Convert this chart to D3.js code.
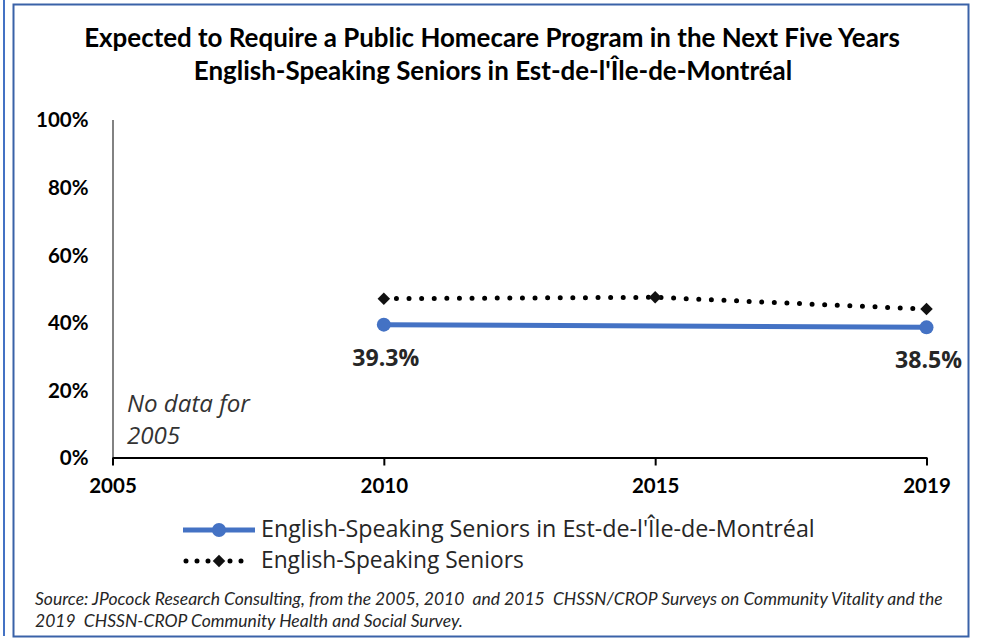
<!DOCTYPE html>
<html><head><meta charset="utf-8">
<script src="https://cdn.jsdelivr.net/npm/d3@7"></script>
<style>body{margin:0;background:#fff}</style></head>
<body>
<svg id="c" width="981" height="641"></svg>
<script>
const years = ["2005", "2010", "2015", "2019"];
const estValues = [null, 39.3, null, 38.5];
const allValues = [null, 47.0, 47.4, 43.9];
const yTicks = [0, 20, 40, 60, 80, 100];
const seriesNames = ["English-Speaking Seniors in Est-de-l'Île-de-Montréal", "English-Speaking Seniors"];
const titleLines = ["Expected to Require a Public Homecare Program in the Next Five Years", "English-Speaking Seniors in Est-de-l'Île-de-Montréal"];
const noteLines = ["No data for", "2005"];
const sourceLines = ["Source: JPocock Research Consulting, from the 2005, 2010  and 2015  CHSSN/CROP Surveys on Community Vitality and the", "2019  CHSSN-CROP Community Health and Social Survey."];

const svg = d3.select("#c");
function fit(sel, w) {
  sel.each(function () {
    const cur = this.getComputedTextLength();
    const fs = parseFloat(this.getAttribute("font-size"));
    if (cur > 0) this.setAttribute("font-size", fs * w / cur);
  });
}

// borders
svg.append("line").attr("x1", 4).attr("x2", 4).attr("y1", 0).attr("y2", 636)
  .attr("stroke", "#4472C4").attr("stroke-width", 2);
svg.append("rect").attr("x", 13.5).attr("y", 4.5).attr("width", 955).attr("height", 632)
  .attr("fill", "none").attr("stroke", "#3A62A8").attr("stroke-width", 2);

// title
const tFonts = "Lato, 'Liberation Sans', sans-serif";
const tY = [47, 80];
const t1 = svg.append("text").attr("x", 492).attr("y", tY[0]).attr("text-anchor", "middle")
  .attr("font-family", tFonts).attr("font-weight", "bold").attr("font-size", 20)
  .attr("fill", "#000").text(titleLines[0]).call(fit, 816);
svg.append("text").attr("x", 493).attr("y", tY[1]).attr("text-anchor", "middle")
  .attr("font-family", tFonts).attr("font-weight", "bold").attr("font-size", t1.attr("font-size"))
  .attr("fill", "#000").text(titleLines[1]);

const x = d3.scalePoint().domain(years).range([112.5, 926.5]);
const y = d3.scaleLinear().domain([0, 100]).range([457.5, 119.5]);

// y axis
const yAxis = svg.append("g").attr("transform", "translate(112.5,0)")
  .call(d3.axisLeft(y).tickValues(yTicks).tickSize(0).tickPadding(24).tickFormat(d => d + "%"));
yAxis.select(".domain").attr("stroke", "#595959").attr("stroke-width", 1.5);
yAxis.selectAll("text").attr("font-family", tFonts).attr("font-weight", "bold")
  .attr("font-size", 20.5).attr("fill", "#000").attr("dy", "0.36em");

// x axis
const xAxis = svg.append("g").attr("transform", "translate(0,457.5)")
  .call(d3.axisBottom(x).tickSize(8).tickPadding(13).tickSizeOuter(0));
xAxis.select(".domain").attr("stroke", "#000").attr("stroke-width", 2);
xAxis.selectAll(".tick line").attr("stroke", "#000").attr("stroke-width", 2);
xAxis.selectAll("text").attr("font-family", tFonts).attr("font-weight", "bold")
  .attr("font-size", 20.5).attr("fill", "#000");

// series: all English-speaking seniors (dotted)
const allPts = years.map((yr, i) => ({ yr, v: allValues[i] })).filter(d => d.v != null);
const estPts = years.map((yr, i) => ({ yr, v: estValues[i] })).filter(d => d.v != null);
const line = d3.line().x(d => x(d.yr)).y(d => y(d.v));

svg.append("path").datum(allPts).attr("d", line).attr("fill", "none")
  .attr("stroke", "#000").attr("stroke-width", 5).attr("stroke-linecap", "round")
  .attr("stroke-dasharray", "0,12.6");
const diamond = d3.symbol().type(d3.symbolSquare).size(78);
svg.selectAll(".dm").data(allPts).join("path").attr("class", "dm")
  .attr("transform", d => `translate(${x(d.yr)},${y(d.v)}) rotate(45)`).attr("d", diamond).attr("fill", "#111");

// series: Est-de-l'Île (blue)
svg.append("path").datum(estPts).attr("d", line).attr("fill", "none")
  .attr("stroke", "#4472C4").attr("stroke-width", 5);
svg.selectAll(".cm").data(estPts).join("circle").attr("class", "cm")
  .attr("cx", d => x(d.yr)).attr("cy", d => y(d.v)).attr("r", 7).attr("fill", "#4472C4");

// data labels
const lFonts = "'Open Sans', 'Noto Sans', sans-serif";
svg.selectAll(".dl").data(estPts).join("text").attr("class", "dl")
  .attr("x", d => x(d.yr) + 2).attr("y", d => y(d.v) + 41).attr("text-anchor", "middle")
  .attr("font-family", lFonts).attr("font-weight", "bold").attr("font-size", 19)
  .attr("fill", "#262626").text(d => d.v.toFixed(1) + "%").call(fit, 67);

// note
const n1 = svg.append("text").attr("x", 127).attr("y", 412)
  .attr("font-family", lFonts).attr("font-style", "italic").attr("font-size", 19)
  .attr("fill", "#333").text(noteLines[0]).call(fit, 123);
svg.append("text").attr("x", 127).attr("y", 444)
  .attr("font-family", lFonts).attr("font-style", "italic").attr("font-size", n1.attr("font-size"))
  .attr("fill", "#333").text(noteLines[1]);

// legend
const legY = [530, 561];
svg.append("line").attr("x1", 183).attr("x2", 255).attr("y1", legY[0]).attr("y2", legY[0])
  .attr("stroke", "#4472C4").attr("stroke-width", 5);
svg.append("circle").attr("cx", 219).attr("cy", legY[0]).attr("r", 7).attr("fill", "#4472C4");
svg.append("line").attr("x1", 186).attr("x2", 252).attr("y1", legY[1]).attr("y2", legY[1])
  .attr("stroke", "#000").attr("stroke-width", 5).attr("stroke-linecap", "round")
  .attr("stroke-dasharray", "0,11");
svg.append("path").attr("transform", `translate(219,${legY[1]}) rotate(45)`).attr("d", diamond).attr("fill", "#111");
const legW = [554, 263];
seriesNames.forEach((t, i) => {
  svg.append("text").attr("x", 261).attr("y", legY[i] + 7)
    .attr("font-family", lFonts).attr("font-size", 19).attr("fill", "#262626").text(t)
    .call(fit, legW[i]);
});

// source
const sFonts = "Lato, 'Liberation Sans', sans-serif";
const s1 = svg.append("text").attr("x", 35).attr("y", 605)
  .attr("font-family", sFonts).attr("font-style", "italic").attr("font-size", 14)
  .attr("fill", "#262626").style("white-space", "pre").text(sourceLines[0]);
s1.call(fit, 908);
svg.append("text").attr("x", 35).attr("y", 627)
  .attr("font-family", sFonts).attr("font-style", "italic").attr("font-size", s1.attr("font-size"))
  .attr("fill", "#262626").style("white-space", "pre").text(sourceLines[1]);
</script>
</body></html>
